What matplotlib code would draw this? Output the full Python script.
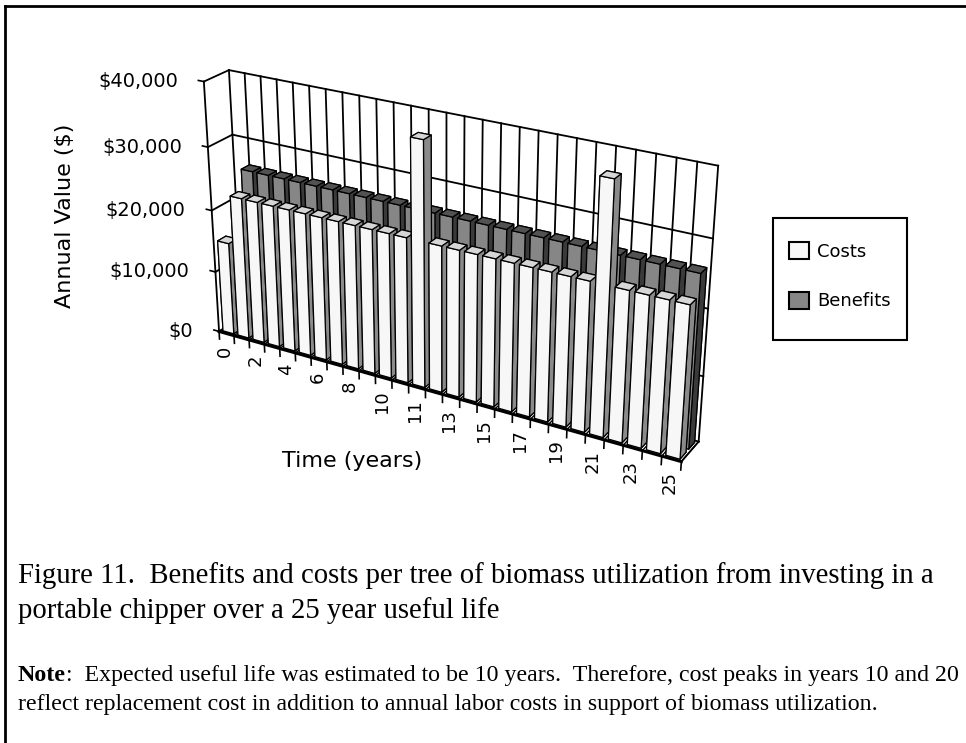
import numpy as np
import matplotlib
matplotlib.use("Agg")
import matplotlib.pyplot as plt
from matplotlib.patches import Patch, Rectangle
from matplotlib.lines import Line2D
from mpl_toolkits.mplot3d import proj3d

# ---------------- data ----------------
series_names = ["Costs", "Benefits"]
costs = [15000, 22800, 22800, 22800, 22800, 22800, 22800, 22800, 22800, 22800,
         22800, 22800, 37800, 22800, 22800, 22800, 22800, 22800, 22800, 22800,
         22800, 22800, 37800, 22800, 22800, 22800, 22800]
benefits = [0, 26000, 26000, 26000, 26000, 26000, 26000, 26000, 26000, 26000,
            26000, 26000, 26000, 26000, 26000, 26000, 26000, 26000, 26000, 26000,
            26000, 26000, 26000, 26000, 26000, 26000, 26000]
tick_labels = ["0", "2", "4", "6", "8", "10", "11", "13", "15", "17", "19",
               "21", "23", "25"]
value_ticks = [0, 10000, 20000, 30000, 40000]
value_labels = ["$0", "$10,000", "$20,000", "$30,000", "$40,000"]

n = len(costs)
zmax = value_ticks[-1]

fig = plt.figure(figsize=(9.66, 7.43), dpi=100)

ax = fig.add_axes([0.134, 0.231, 0.635, 0.825], projection="3d")
ax.patch.set_alpha(0)
ax.set_proj_type("persp", focal_length=0.52)
ax.view_init(elev=24.5, azim=-60)
ax.set_box_aspect((533, 42, 281), zoom=0.98)
ax.set_axis_off()
ax.computed_zorder = False

lw_wall = 1.3
# back wall (y = 2) and left wall (x = 0)
for k in range(n + 1):
    ax.plot([k, k], [2, 2], [0, zmax], color="black", lw=lw_wall, zorder=1)
    ax.plot([k, k], [0, 2], [0, 0], color="black", lw=1.0, zorder=1)
for v in value_ticks:
    ax.plot([0, n], [2, 2], [v, v], color="black", lw=lw_wall, zorder=1)
    ax.plot([0, 0], [0, 2], [v, v], color="black", lw=lw_wall, zorder=1)
ax.plot([n, n], [0, 2], [0, 0], color="black", lw=lw_wall, zorder=1)

# bars
bw, bd = 0.72, 0.68
# face order in bar3d: bottom, top, front(-y), back(+y), left(-x), right(+x)
white_faces = ["#d6d6d6", "#d6d6d6", "#f7f7f7", "#f7f7f7", "#8a8a8a", "#8a8a8a"]
gray_faces = ["#525252", "#525252", "#868686", "#868686", "#3a3a3a", "#3a3a3a"]
zo = 10
for row, vals, faces in [(1, benefits, gray_faces), (0, costs, white_faces)]:
    for i, v in enumerate(vals):
        ax.bar3d(i + (1 - bw) / 2, row + (1 - bd) / 2, 0, bw, bd, v,
                 color=faces, edgecolor="black", linewidth=0.9,
                 shade=False, zorder=zo)
        zo += 1

# front floor edge and left value axis
ax.plot([0, n], [0, 0], [0, 0], color="black", lw=2.2, zorder=500)
for k in range(n + 1):
    ax.plot([k, k], [0, 0], [0, -1300], color="black", lw=1.2, zorder=500)
ax.plot([0, 0], [0, 0], [0, zmax], color="black", lw=1.3, zorder=500)
for v in value_ticks:
    ax.plot([0, -0.35], [0, 0], [v, v], color="black", lw=1.2, zorder=500)

ax.set_xlim(0, n)
ax.set_ylim(0, 2)
ax.set_zlim(0, zmax)

M = ax.get_proj()


def to2d(x, y, z):
    X, Y, _ = proj3d.proj_transform(x, y, z, M)
    return float(X), float(Y)


for v, lab in zip(value_ticks, value_labels):
    ax.annotate(lab, xy=to2d(0, 0, v), xycoords="data", xytext=(-26, 0),
                textcoords="offset pixels", ha="right", va="center",
                family="DejaVu Sans", size=14)
for j, lab in enumerate(tick_labels):
    i = 2 * j
    ax.annotate(lab, xy=to2d(i + 0.4, 0, 0), xycoords="data", xytext=(0, -13),
                textcoords="offset pixels", ha="center", va="top",
                rotation=90, family="DejaVu Sans", size=13)

fig.text(65 / 966, 1 - 216 / 743, "Annual Value ($)", rotation=90,
         ha="center", va="center", family="DejaVu Sans", size=16)
fig.text(352 / 966, 1 - 461 / 743, "Time (years)", ha="center", va="center",
         family="DejaVu Sans", size=16)

# legend
handles = [Patch(facecolor="#f7f7f7", edgecolor="black", lw=1.5, label=series_names[0]),
           Patch(facecolor="#868686", edgecolor="black", lw=1.5, label=series_names[1])]
leg = fig.legend(handles=handles, loc="upper left",
                 bbox_to_anchor=(789 / 966, 1 - 242 / 743),
                 frameon=False, handlelength=1.1, handleheight=1.1,
                 handletextpad=0.45, labelspacing=1.7, borderpad=0,
                 borderaxespad=0, prop=dict(family="DejaVu Sans", size=13))
fig.add_artist(Rectangle((773 / 966, 1 - 340 / 743), 134 / 966, 122 / 743,
                         fill=False, edgecolor="black", lw=1.5,
                         transform=fig.transFigure))

# caption
serif = dict(family="Liberation Serif")
fig.text(18 / 966, 1 - 583 / 743,
         "Figure 11.  Benefits and costs per tree of biomass utilization from investing in a",
         va="baseline", ha="left", size=20.7, **serif)
fig.text(18 / 966, 1 - 618 / 743,
         "portable chipper over a 25 year useful life",
         va="baseline", ha="left", size=20.7, **serif)
t1 = fig.text(18 / 966, 1 - 681 / 743, "Note", weight="bold", va="baseline",
              ha="left", size=17.2, **serif)
plt.annotate(":  Expected useful life was estimated to be 10 years.  Therefore, cost peaks in years 10 and 20",
             xy=(1, 0), xycoords=t1, va="bottom", ha="left", size=17.2,
             annotation_clip=False, **serif)
fig.text(18 / 966, 1 - 710 / 743,
         "reflect replacement cost in addition to annual labor costs in support of biomass utilization.",
         va="baseline", ha="left", size=17.2, **serif)

# frame
fig.add_artist(Line2D([5 / 966, 5 / 966], [0, 1 - 6 / 743], color="black", lw=2,
                      transform=fig.transFigure))
fig.add_artist(Line2D([5 / 966, 1], [1 - 6 / 743, 1 - 6 / 743], color="black", lw=2,
                      transform=fig.transFigure))

fig.savefig("out.png", dpi=100, facecolor="white")
